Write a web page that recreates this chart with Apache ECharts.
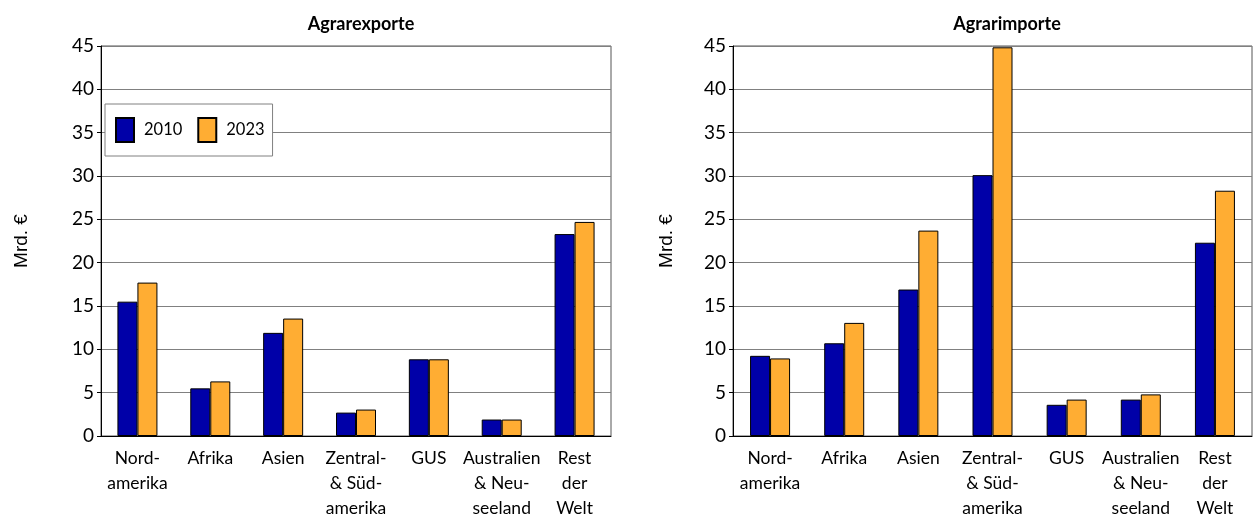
<!DOCTYPE html>
<html><head><meta charset="utf-8">
<script src="https://cdn.jsdelivr.net/npm/echarts@6/dist/echarts.min.js"></script>
<style>html,body{margin:0;padding:0;background:#fff}#c{width:1253px;height:521px}</style>
</head><body><div id="c"></div>
<script>
const categories = ['Nord-\namerika','Afrika','Asien','Zentral-\n& Süd-\namerika','GUS','Australien\n& Neu-\nseeland','Rest\nder\nWelt'];
const exports2010 = [15.5, 5.5, 11.9, 2.7, 8.85, 1.9, 23.3];
const exports2023 = [17.7, 6.3, 13.55, 3.05, 8.85, 1.9, 24.7];
const imports2010 = [9.25, 10.7, 16.9, 30.1, 3.6, 4.2, 22.3];
const imports2023 = [8.95, 13.05, 23.7, 44.85, 4.2, 4.8, 28.3];
const yTicks = {min: 0, max: 45, interval: 5};
const titles = ['Agrarexporte', 'Agrarimporte'];
const yName = 'Mrd. €';
const years = ['2010', '2023'];

const BLUE = '#0000a8', ORANGE = '#ffad33';
const FONT = 'Lato';
const chart = echarts.init(document.getElementById('c'));

function xAx(i){
  return {type:'category', gridIndex:i, data:categories,
    axisLine:{lineStyle:{color:'#000', width:1}}, axisTick:{show:false},
    axisLabel:{interval:0, color:'#000', fontFamily:FONT, fontSize:17.5, lineHeight:25, margin:10, verticalAlign:'top'}};
}
function yAx(i, gap){
  return {type:'value', gridIndex:i, min:yTicks.min, max:yTicks.max, interval:yTicks.interval,
    name:yName, nameLocation:'middle', nameGap:gap, nameRotate:90,
    nameTextStyle:{fontFamily:'Liberation Sans', fontSize:19, color:'#000'},
    axisLine:{show:true, lineStyle:{color:'#000'}}, axisTick:{show:true, length:4, lineStyle:{color:'#000'}},
    axisLabel:{color:'#000', fontFamily:FONT, fontSize:19, margin:7},
    splitLine:{lineStyle:{color:'#808080', width:1}}};
}
function bar(name, data, color, i){
  return {type:'bar', name, data, xAxisIndex:i, yAxisIndex:i, barWidth:20, barGap:'0%',
    itemStyle:{color, borderColor:'#000', borderWidth:1}};
}
chart.setOption({
  animation:false,
  title:[
    {text:titles[0], left:356, top:10, textAlign:'center', textStyle:{fontFamily:FONT, fontSize:18, fontWeight:'bold', color:'#000'}},
    {text:titles[1], left:1002, top:10, textAlign:'center', textStyle:{fontFamily:FONT, fontSize:18, fontWeight:'bold', color:'#000'}}
  ],
  legend:{data:years, icon:'rect', left:105, top:104, orient:'horizontal', itemWidth:18, itemHeight:24, itemGap:15,
    padding:[13, 8, 13, 10], borderColor:'#808080', borderWidth:1, backgroundColor:'#fff',
    textStyle:{fontFamily:FONT, fontSize:16.5, color:'#000', padding:[0,0,0,5]}},
  grid:[
    {left:101, right:642, top:46, bottom:81, show:true, borderColor:'#555', borderWidth:1},
    {left:733, right:1, top:46, bottom:81, show:true, borderColor:'#555', borderWidth:1}
  ],
  xAxis:[xAx(0), xAx(1)],
  yAxis:[yAx(0, 70), yAx(1, 57)],
  series:[
    bar(years[0], exports2010, BLUE, 0),
    bar(years[1], exports2023, ORANGE, 0),
    bar(years[0], imports2010, BLUE, 1),
    bar(years[1], imports2023, ORANGE, 1)
  ]
});
</script></body></html>
